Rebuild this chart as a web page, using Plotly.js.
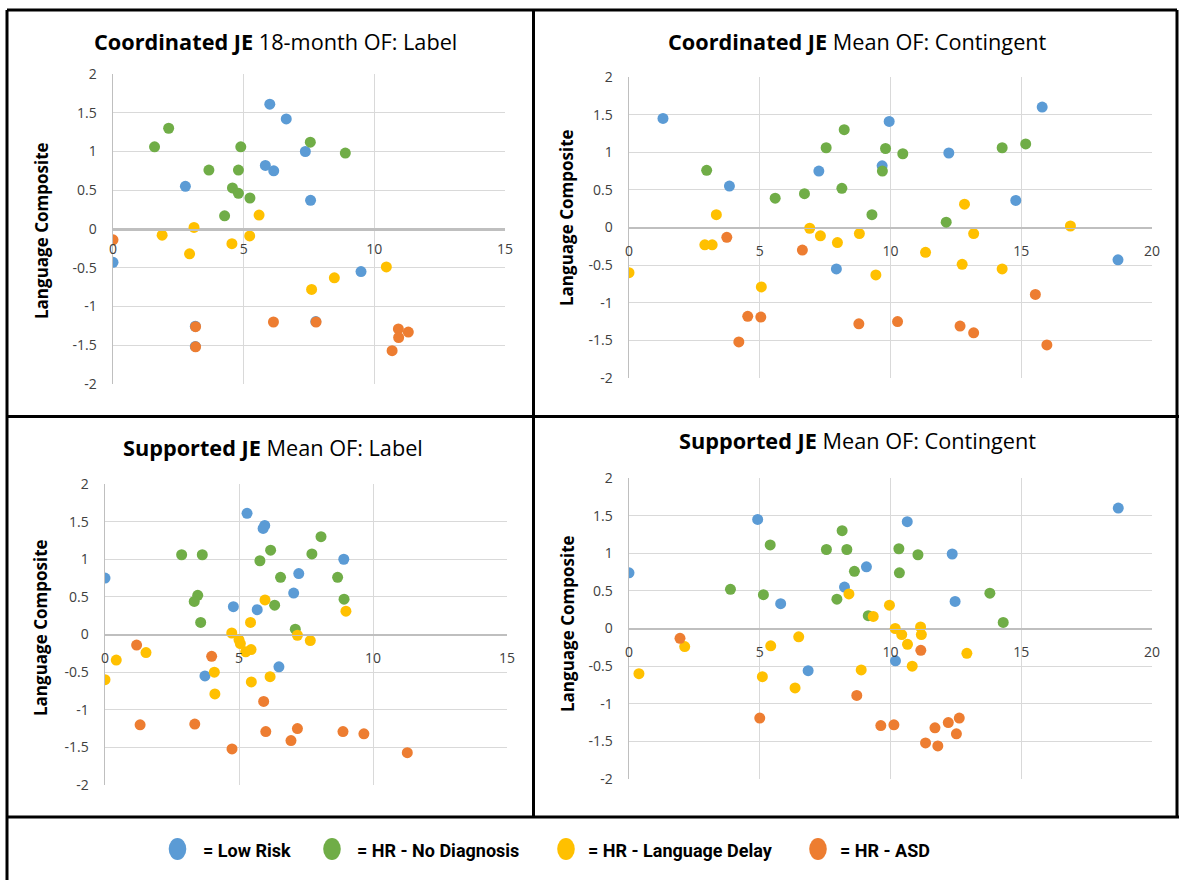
<!DOCTYPE html>
<html>
<head>
<meta charset="utf-8">
<script src="https://cdn.plot.ly/plotly-3.0.1.min.js"></script>
<style>html,body{margin:0;padding:0;background:#fff;}#chart{width:1179px;height:880px;}</style>
</head>
<body>
<div id="chart"></div>
<script>
// ---------- Data ----------
const GROUPS = ["Low Risk", "HR - No Diagnosis", "HR - Language Delay", "HR - ASD"];
const COLORS = ["#5B9BD5", "#70AD47", "#FFC000", "#ED7D31"];
const PANEL_TITLES = [
  "<b>Coordinated JE</b> 18-month OF: Label",
  "<b>Coordinated JE</b> Mean OF: Contingent",
  "<b>Supported JE</b> Mean OF: Label",
  "<b>Supported JE</b> Mean OF: Contingent"
];
const Y_TITLE = "Language Composite";
const X_MAX = [15, 20, 15, 20];
const Y_TICKS = [-2, -1.5, -1, -0.5, 0, 0.5, 1, 1.5, 2];
const Y_TICK_TEXT = ["-2", "-1.5", "-1", "-0.5", "0", "0.5", "1", "1.5", "2"];

// Panel 1: Coordinated JE 18-month OF: Label
const P1_LR_X = [6.0, 6.63, 7.36, 5.83, 6.15, 2.77, 7.56, 0.0, 9.49, 3.15, 3.15, 7.76];
const P1_LR_Y = [1.61, 1.42, 1.00, 0.82, 0.75, 0.55, 0.37, -0.43, -0.55, -1.255, -1.515, -1.195];
const P1_ND_X = [2.13, 1.59, 4.89, 7.55, 3.67, 4.80, 4.57, 4.80, 5.24, 4.27, 8.89];
const P1_ND_Y = [1.30, 1.06, 1.06, 1.12, 0.76, 0.76, 0.53, 0.46, 0.40, 0.17, 0.98];
const P1_LD_X = [1.88, 3.10, 2.93, 4.55, 5.23, 5.59, 7.60, 8.47, 10.46];
const P1_LD_Y = [-0.08, 0.02, -0.32, -0.19, -0.09, 0.18, -0.78, -0.63, -0.49];
const P1_ASD_X = [0.0, 3.16, 3.16, 6.14, 7.77, 10.92, 11.30, 10.93, 10.68];
const P1_ASD_Y = [-0.14, -1.26, -1.52, -1.20, -1.20, -1.29, -1.33, -1.40, -1.57];

// Panel 2: Coordinated JE Mean OF: Contingent
const P2_LR_X = [1.30, 3.84, 7.26, 7.93, 9.95, 9.68, 12.23, 14.79, 15.80, 18.70];
const P2_LR_Y = [1.45, 0.55, 0.75, -0.55, 1.41, 0.82, 0.99, 0.36, 1.60, -0.43];
const P2_ND_X = [2.97, 5.59, 6.71, 7.54, 8.23, 8.14, 9.29, 9.81, 9.69, 10.47, 12.13, 14.27, 15.17];
const P2_ND_Y = [0.76, 0.39, 0.45, 1.06, 1.30, 0.52, 0.17, 1.05, 0.75, 0.98, 0.07, 1.06, 1.11];
const P2_LD_X = [0.0, 2.90, 3.18, 3.34, 5.06, 6.91, 7.32, 7.97, 8.81, 9.44, 11.34, 12.74, 12.83, 13.18, 14.27, 16.88];
const P2_LD_Y = [-0.60, -0.23, -0.23, 0.17, -0.79, -0.01, -0.11, -0.20, -0.08, -0.63, -0.33, -0.49, 0.31, -0.08, -0.55, 0.02];
const P2_ASD_X = [3.74, 6.63, 4.20, 4.54, 5.04, 8.79, 10.27, 12.66, 13.18, 15.54, 15.98];
const P2_ASD_Y = [-0.13, -0.30, -1.52, -1.18, -1.19, -1.28, -1.25, -1.31, -1.40, -0.89, -1.56];

// Panel 3: Supported JE Mean OF: Label
const P3_LR_X = [0.0, 5.30, 5.96, 5.90, 7.23, 7.04, 4.79, 5.68, 3.73, 6.49, 8.91];
const P3_LR_Y = [0.75, 1.61, 1.45, 1.41, 0.81, 0.55, 0.37, 0.33, -0.55, -0.43, 1.00];
const P3_ND_X = [2.86, 3.63, 6.18, 5.78, 6.55, 3.46, 3.33, 3.57, 6.33, 7.10, 7.72, 8.06, 8.68, 8.92];
const P3_ND_Y = [1.06, 1.06, 1.12, 0.98, 0.76, 0.52, 0.44, 0.16, 0.39, 0.07, 1.07, 1.30, 0.76, 0.47];
const P3_LD_X = [0.0, 0.42, 1.53, 4.08, 4.10, 4.73, 5.00, 5.05, 5.25, 5.45, 5.43, 5.46, 5.97, 6.16, 7.18, 7.66, 8.99];
const P3_LD_Y = [-0.60, -0.34, -0.24, -0.50, -0.79, 0.02, -0.07, -0.12, -0.23, -0.20, 0.16, -0.63, 0.46, -0.56, -0.01, -0.08, 0.31];
const P3_ASD_X = [1.18, 3.98, 1.31, 3.35, 4.74, 5.92, 6.00, 7.18, 6.94, 8.88, 9.66, 11.28];
const P3_ASD_Y = [-0.14, -0.29, -1.20, -1.19, -1.52, -0.89, -1.29, -1.25, -1.41, -1.29, -1.32, -1.57];

// Panel 4: Supported JE Mean OF: Contingent
const P4_LR_X = [0.0, 4.92, 5.80, 6.85, 8.24, 9.08, 10.64, 12.36, 12.47, 18.71, 10.19];
const P4_LR_Y = [0.74, 1.45, 0.33, -0.56, 0.55, 0.82, 1.42, 0.99, 0.36, 1.60, -0.43];
const P4_ND_X = [3.88, 5.14, 5.40, 7.55, 8.15, 8.33, 8.62, 7.95, 9.15, 10.32, 11.05, 10.34, 13.80, 14.31];
const P4_ND_Y = [0.52, 0.45, 1.11, 1.05, 1.30, 1.05, 0.76, 0.39, 0.17, 1.06, 0.98, 0.74, 0.47, 0.08];
const P4_LD_X = [0.38, 2.13, 5.42, 5.10, 6.49, 6.35, 8.41, 8.88, 9.34, 9.96, 10.18, 10.43, 10.65, 10.83, 11.15, 11.18, 12.92];
const P4_LD_Y = [-0.60, -0.24, -0.23, -0.64, -0.11, -0.79, 0.46, -0.55, 0.16, 0.31, 0.00, -0.08, -0.21, -0.50, 0.02, -0.08, -0.33];
const P4_ASD_X = [1.95, 5.00, 8.71, 11.16, 9.63, 10.13, 11.34, 11.70, 11.81, 12.21, 12.52, 12.63];
const P4_ASD_Y = [-0.13, -1.19, -0.89, -0.29, -1.29, -1.28, -1.52, -1.32, -1.56, -1.25, -1.40, -1.19];

const PANEL_DATA = [
  [[P1_LR_X, P1_LR_Y], [P1_ND_X, P1_ND_Y], [P1_LD_X, P1_LD_Y], [P1_ASD_X, P1_ASD_Y]],
  [[P2_LR_X, P2_LR_Y], [P2_ND_X, P2_ND_Y], [P2_LD_X, P2_LD_Y], [P2_ASD_X, P2_ASD_Y]],
  [[P3_LR_X, P3_LR_Y], [P3_ND_X, P3_ND_Y], [P3_LD_X, P3_LD_Y], [P3_ASD_X, P3_ASD_Y]],
  [[P4_LR_X, P4_LR_Y], [P4_ND_X, P4_ND_Y], [P4_LD_X, P4_LD_Y], [P4_ASD_X, P4_ASD_Y]]
];

// ---------- Layout geometry (pixels) ----------
const W = 1179, H = 880;
const px = v => v / W;
const py = v => 1 - v / H;
// plot areas: [left, right, top, bottom]
const AREAS = [
  [113, 505, 74, 384],
  [629, 1152, 77, 378],
  [105, 507, 484, 785],
  [629, 1152, 478, 779]
];
const TITLE_POS = [[275, 41], [857, 41], [273, 447], [857, 441]];
const YTITLE_POS = [[42, 231], [566, 218], [40, 628], [567, 624]];
const XLABEL_STANDOFF = [7, 10, 10, 10];

const FONT = "Open Sans, Noto Sans, sans-serif";
const TICKFONT = {family: FONT, size: 14, color: "#404040"};

const traces = [];
const layout = {
  width: W, height: H,
  margin: {l: 0, r: 0, t: 0, b: 0},
  paper_bgcolor: "#ffffff",
  plot_bgcolor: "#ffffff",
  showlegend: false,
  annotations: [],
  shapes: []
};

PANEL_DATA.forEach((groups, p) => {
  const sfx = p === 0 ? "" : String(p + 1);
  const [l, r, t, b] = AREAS[p];
  const ydom = [py(b), py(t)];
  groups.forEach((g, gi) => {
    traces.push({
      type: "scatter", mode: "markers",
      x: g[0], y: g[1],
      name: GROUPS[gi],
      xaxis: "x" + sfx, yaxis: "y" + sfx,
      marker: {color: COLORS[gi], size: 11, line: {width: 0}},
      hoverinfo: "x+y+name"
    });
  });
  layout["xaxis" + sfx] = {
    domain: [px(l), px(r)],
    range: [0, X_MAX[p]],
    tick0: 0, dtick: 5,
    showgrid: true, gridcolor: "#d9d9d9", gridwidth: 1,
    zeroline: false,
    showline: true, linecolor: "#bfbfbf", linewidth: 1.5,
    anchor: "free", position: (ydom[0] + ydom[1]) / 2,
    ticks: "", ticklabelstandoff: XLABEL_STANDOFF[p],
    tickfont: TICKFONT, fixedrange: true
  };
  layout["yaxis" + sfx] = {
    domain: ydom,
    range: [-2, 2],
    tickvals: Y_TICKS, ticktext: Y_TICK_TEXT,
    showgrid: true, gridcolor: "#d9d9d9", gridwidth: 1,
    zeroline: true, zerolinecolor: "#bfbfbf", zerolinewidth: 1.5,
    showline: true, linecolor: "#bfbfbf", linewidth: 1.5,
    anchor: "x" + sfx,
    ticks: "", ticklabelstandoff: 12,
    tickfont: TICKFONT, fixedrange: true
  };
  layout.annotations.push({
    xref: "paper", yref: "paper",
    x: px(TITLE_POS[p][0]), y: py(TITLE_POS[p][1]),
    xanchor: "center", yanchor: "middle",
    text: PANEL_TITLES[p], showarrow: false,
    font: {family: FONT, size: 21.7, color: "#000000"}
  });
  layout.annotations.push({
    xref: "paper", yref: "paper",
    x: px(YTITLE_POS[p][0]), y: py(YTITLE_POS[p][1]),
    xanchor: "center", yanchor: "middle",
    text: "<b>" + Y_TITLE + "</b>", textangle: -90, showarrow: false,
    font: {family: FONT, size: 17, color: "#000000"}
  });
});

// Frame lines
const frame = [
  [7, 10, 7, 880],
  [7, 10, 1177, 10],
  [1177, 10, 1177, 817],
  [533.5, 10, 533.5, 817],
  [7, 416.5, 1179, 416.5],
  [7, 817, 1179, 817]
];
frame.forEach(f => layout.shapes.push({
  type: "line", xref: "paper", yref: "paper",
  x0: px(f[0]), y0: py(f[1]), x1: px(f[2]), y1: py(f[3]),
  line: {color: "#000000", width: 3}
}));

// Legend (bottom strip)
const LEG_MARK_X = [177.5, 332, 566, 818];
const LEG_TEXT_X = [201, 355, 586, 838];
const LEG_Y = 849, LEG_R = 11;
GROUPS.forEach((g, i) => {
  layout.shapes.push({
    type: "circle", xref: "paper", yref: "paper",
    x0: px(LEG_MARK_X[i] - LEG_R * 0.8), x1: px(LEG_MARK_X[i] + LEG_R * 0.8),
    y0: py(LEG_Y + LEG_R), y1: py(LEG_Y - LEG_R),
    fillcolor: COLORS[i], line: {width: 0}
  });
  layout.annotations.push({
    xref: "paper", yref: "paper",
    x: px(LEG_TEXT_X[i]), y: py(LEG_Y + 1),
    xanchor: "left", yanchor: "middle",
    text: "<b>= " + g + "</b>", showarrow: false,
    font: {family: "Liberation Sans Narrow, Roboto, sans-serif", size: 18, color: "#000000"}
  });
});

Plotly.newPlot("chart", traces, layout, {displayModeBar: false, staticPlot: true});
</script>
</body>
</html>
